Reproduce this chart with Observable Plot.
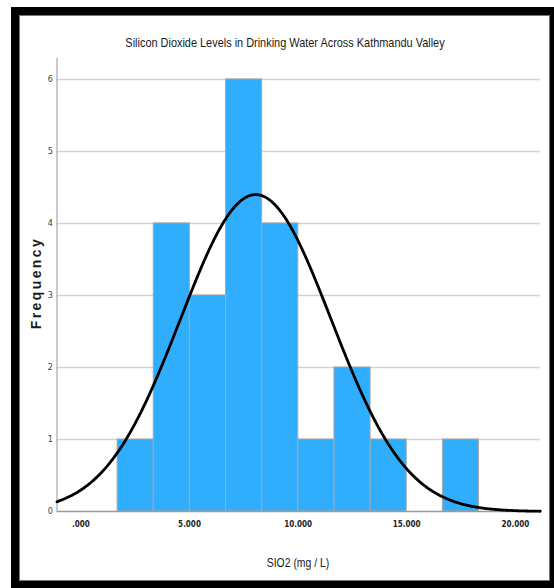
<!DOCTYPE html>
<html>
<head>
<meta charset="utf-8">
<script src="https://cdn.jsdelivr.net/npm/d3@7"></script>
<script src="https://cdn.jsdelivr.net/npm/@observablehq/plot@0.6"></script>
<style>
  html, body { margin: 0; padding: 0; background: #fff; overflow: hidden; }
  body { width: 554px; height: 588px; position: relative; }
  #frame {
    position: absolute; left: 11px; top: 7px;
    width: 531px; height: 566px;
    border: 8px solid #000;
    box-shadow: inset 0 0 0 1px #777;
  }
  #chart { position: absolute; left: 0; top: 0; }
  .narrow {
    position: absolute;
    white-space: nowrap;
    font-family: "Liberation Sans", Arial, sans-serif;
    color: #1a1a1a;
    transform-origin: center center;
  }
  #title { left: 285px; top: 35px; font-size: 13px; transform: translateX(-50%) scaleX(0.84); }
  #xtitle { left: 298px; top: 555px; font-size: 13px; transform: translateX(-50%) scaleX(0.8); }
  #ytitle {
    position: absolute; left: 36px; top: 283px;
    transform: translate(-50%, -50%) rotate(-90deg);
    white-space: nowrap;
    font-family: "Liberation Sans", Arial, sans-serif;
    font-weight: bold; font-size: 14px; letter-spacing: 2.4px; color: #1a1a1a;
  }
</style>
</head>
<body>
<div id="frame"></div>
<div id="chart"></div>
<div id="title" class="narrow">Silicon Dioxide Levels in Drinking Water Across Kathmandu Valley</div>
<div id="xtitle" class="narrow">SIO2 (mg / L)</div>
<div id="ytitle">Frequency</div>
<script>
// Histogram bins of SiO2 concentration (mg/L)
const binEdges = [1.69, 3.354, 5.018, 6.682, 8.346, 10.01, 11.674, 13.338, 15.002, 16.666, 18.33];
const binCounts = [1, 4, 3, 6, 4, 1, 2, 1, 0, 1];

// Axis ticks
const xTickValues = [0, 5, 10, 15, 20];
const xTickLabels = [".000", "5.000", "10.000", "15.000", "20.000"];
const yTickValues = [0, 1, 2, 3, 4, 5, 6];

// Fitted normal curve parameters
const sampleSize = 23;
const sampleMean = 8.05;
const sampleSD = 3.47;

const xDomain = [-1.1, 21.16];
const yDomain = [0, 6.29];

const bins = binCounts.map((count, i) => ({x1: binEdges[i], x2: binEdges[i + 1], count}));
const binWidth = binEdges[1] - binEdges[0];

// Normal density scaled to histogram frequencies
const curve = d3.range(xDomain[0], xDomain[1] + 0.001, 0.05).map(x => ({
  x,
  y: sampleSize * binWidth * Math.exp(-0.5 * ((x - sampleMean) / sampleSD) ** 2) / (sampleSD * Math.sqrt(2 * Math.PI))
}));

const condensed = "DejaVu Sans Condensed, Liberation Sans, sans-serif";

const chart = Plot.plot({
  width: 554,
  height: 588,
  marginLeft: 56.5,
  marginRight: 14,
  marginTop: 58,
  marginBottom: 77,
  style: {background: "transparent", overflow: "visible"},
  x: {domain: xDomain},
  y: {domain: yDomain},
  marks: [
    Plot.ruleY(yTickValues.filter(d => d > 0), {stroke: "#d2d2d2", strokeWidth: 1.5}),
    Plot.rectY(bins.filter(d => d.count > 0), {
      x1: "x1", x2: "x2", y: "count",
      fill: "#31adfe", stroke: "#a8a8a8", strokeWidth: 1, inset: 0
    }),
    Plot.ruleY([0], {stroke: "#9a9a9a", strokeWidth: 1.5}),
    Plot.ruleX([xDomain[0]], {stroke: "#b8b8b8", strokeWidth: 1.5}),
    Plot.line(curve, {x: "x", y: "y", stroke: "#000", strokeWidth: 2.8}),
    Plot.axisY({
      ticks: yTickValues, tickFormat: d3.format("d"), tickSize: 0, tickPadding: 4, label: null,
      fontSize: 9, fontFamily: condensed, fill: "#444"
    }),
    Plot.axisX({
      ticks: xTickValues, tickFormat: (d, i) => xTickLabels[i],
      tickSize: 0, tickPadding: 10, label: null,
      fontSize: 8, fontWeight: "bold", fontFamily: condensed, fill: "#222"
    })
  ]
});

document.getElementById("chart").appendChild(chart);
</script>
</body>
</html>
